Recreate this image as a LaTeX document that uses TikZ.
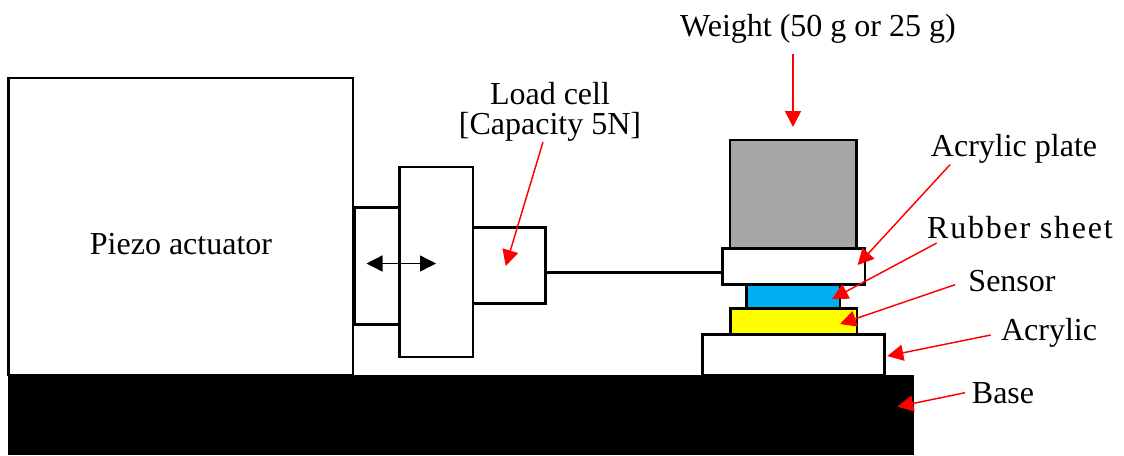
\documentclass[tikz,border=0pt]{standalone}
\usepackage{fontspec}
\setmainfont{Liberation Serif}
\usetikzlibrary{arrows.meta}
\definecolor{wgrey}{RGB}{166,166,166}
\definecolor{rubber}{RGB}{0,176,240}
\definecolor{sensorfill}{RGB}{255,255,0}
\tikzset{
  px/.style={x=0.75pt,y=-0.75pt},
  bx/.style n args={2}{draw=black,line width=2pt,fill=white,inner sep=0pt,outer sep=0pt,anchor=north west,
     minimum width=#1*0.75pt,minimum height=#2*0.75pt},
  lbl/.style={font=\fontsize{24pt}{23pt}\selectfont,inner sep=0pt,outer sep=0pt,align=center,text=black},
  redarrow/.style={draw=red,line width=1.1pt,-{Triangle[length=12pt,width=12pt,fill=red]}},
  bkarrow/.style={draw=black,line width=1.1pt,{Triangle[length=12pt,width=12pt,fill=black]}-{Triangle[length=12pt,width=12pt,fill=black]}},
  wire/.style={draw=black,line width=2pt}
}
\begin{document}
\begin{tikzpicture}[px]
\useasboundingbox (0,0) rectangle (1124,455);
% boxes
\node[bx={344.5}{297}] (piezo) at (8.5,78) {};
\node[bx={45}{117}] (coupler) at (354.5,207.5) {};
\node[bx={73.5}{190}] (stage) at (399.5,167) {};
\node[bx={72.5}{76}] (cell) at (473,227.5) {};
\node[bx={126.5}{108}, fill=wgrey] (weight) at (730,140) {};
\node[bx={142.5}{36}] (plate) at (722.5,248.5) {};
\node[bx={93.5}{24}, fill=rubber] (rubber) at (746.5,284.5) {};
\node[bx={126.5}{26}, fill=sensorfill] (sensor) at (730.5,308.5) {};
\node[bx={182}{41}] (acrylic) at (702.5,334.5) {};
\node[anchor=north west,fill=black,inner sep=0pt,outer sep=0pt,minimum width=906*0.75pt,minimum height=80*0.75pt] (base) at (8,375) {};
% wire
\draw[wire] (cell.east |- 0,272.5) -- (plate.west |- 0,272.5);
% labels
\node[lbl] (tpiezo) at (181,244) {Piezo actuator};
\node[lbl,anchor=center] (tcell) at (550,112) {Load cell\\{[}Capacity 5N{]}};
\node[lbl] (tweight) at (818,28.5) {Weight (50 g or 25 g)};
\node[lbl] (tplate) at (1014,149) {Acrylic plate};
\node[lbl,font=\fontsize{24pt}{23pt}\selectfont\addfontfeature{LetterSpace=5.5}] (trubber) at (1020,228) {Rubber sheet};
\node[lbl] (tsensor) at (1012,281) {Sensor};
\node[lbl] (tacrylic) at (1049,333) {Acrylic};
\node[lbl] (tbase) at (1003,393) {Base};
% arrow ends
\coordinate (dl) at (366.5,263.5);
\coordinate (dr) at (436,263.5);
\coordinate (s1) at (793,54);    \coordinate (e1) at (793,127);
\coordinate (s2) at (543,142);   \coordinate (e2) at (505.7,266);
\coordinate (s3) at (950,164.7); \coordinate (e3) at (857.7,265);
\coordinate (s4) at (936.7,243); \coordinate (e4) at (832,299);
\coordinate (s5) at (955,284.7); \coordinate (e5) at (840,324);
\coordinate (s6) at (990.7,335); \coordinate (e6) at (887.3,356);
\coordinate (s7) at (965,392.7); \coordinate (e7) at (897.3,406.7);
\draw[bkarrow] (dl) -- (dr);
\foreach \i in {1,...,7} \draw[redarrow] (s\i) -- (e\i);
\end{tikzpicture}
\end{document}
